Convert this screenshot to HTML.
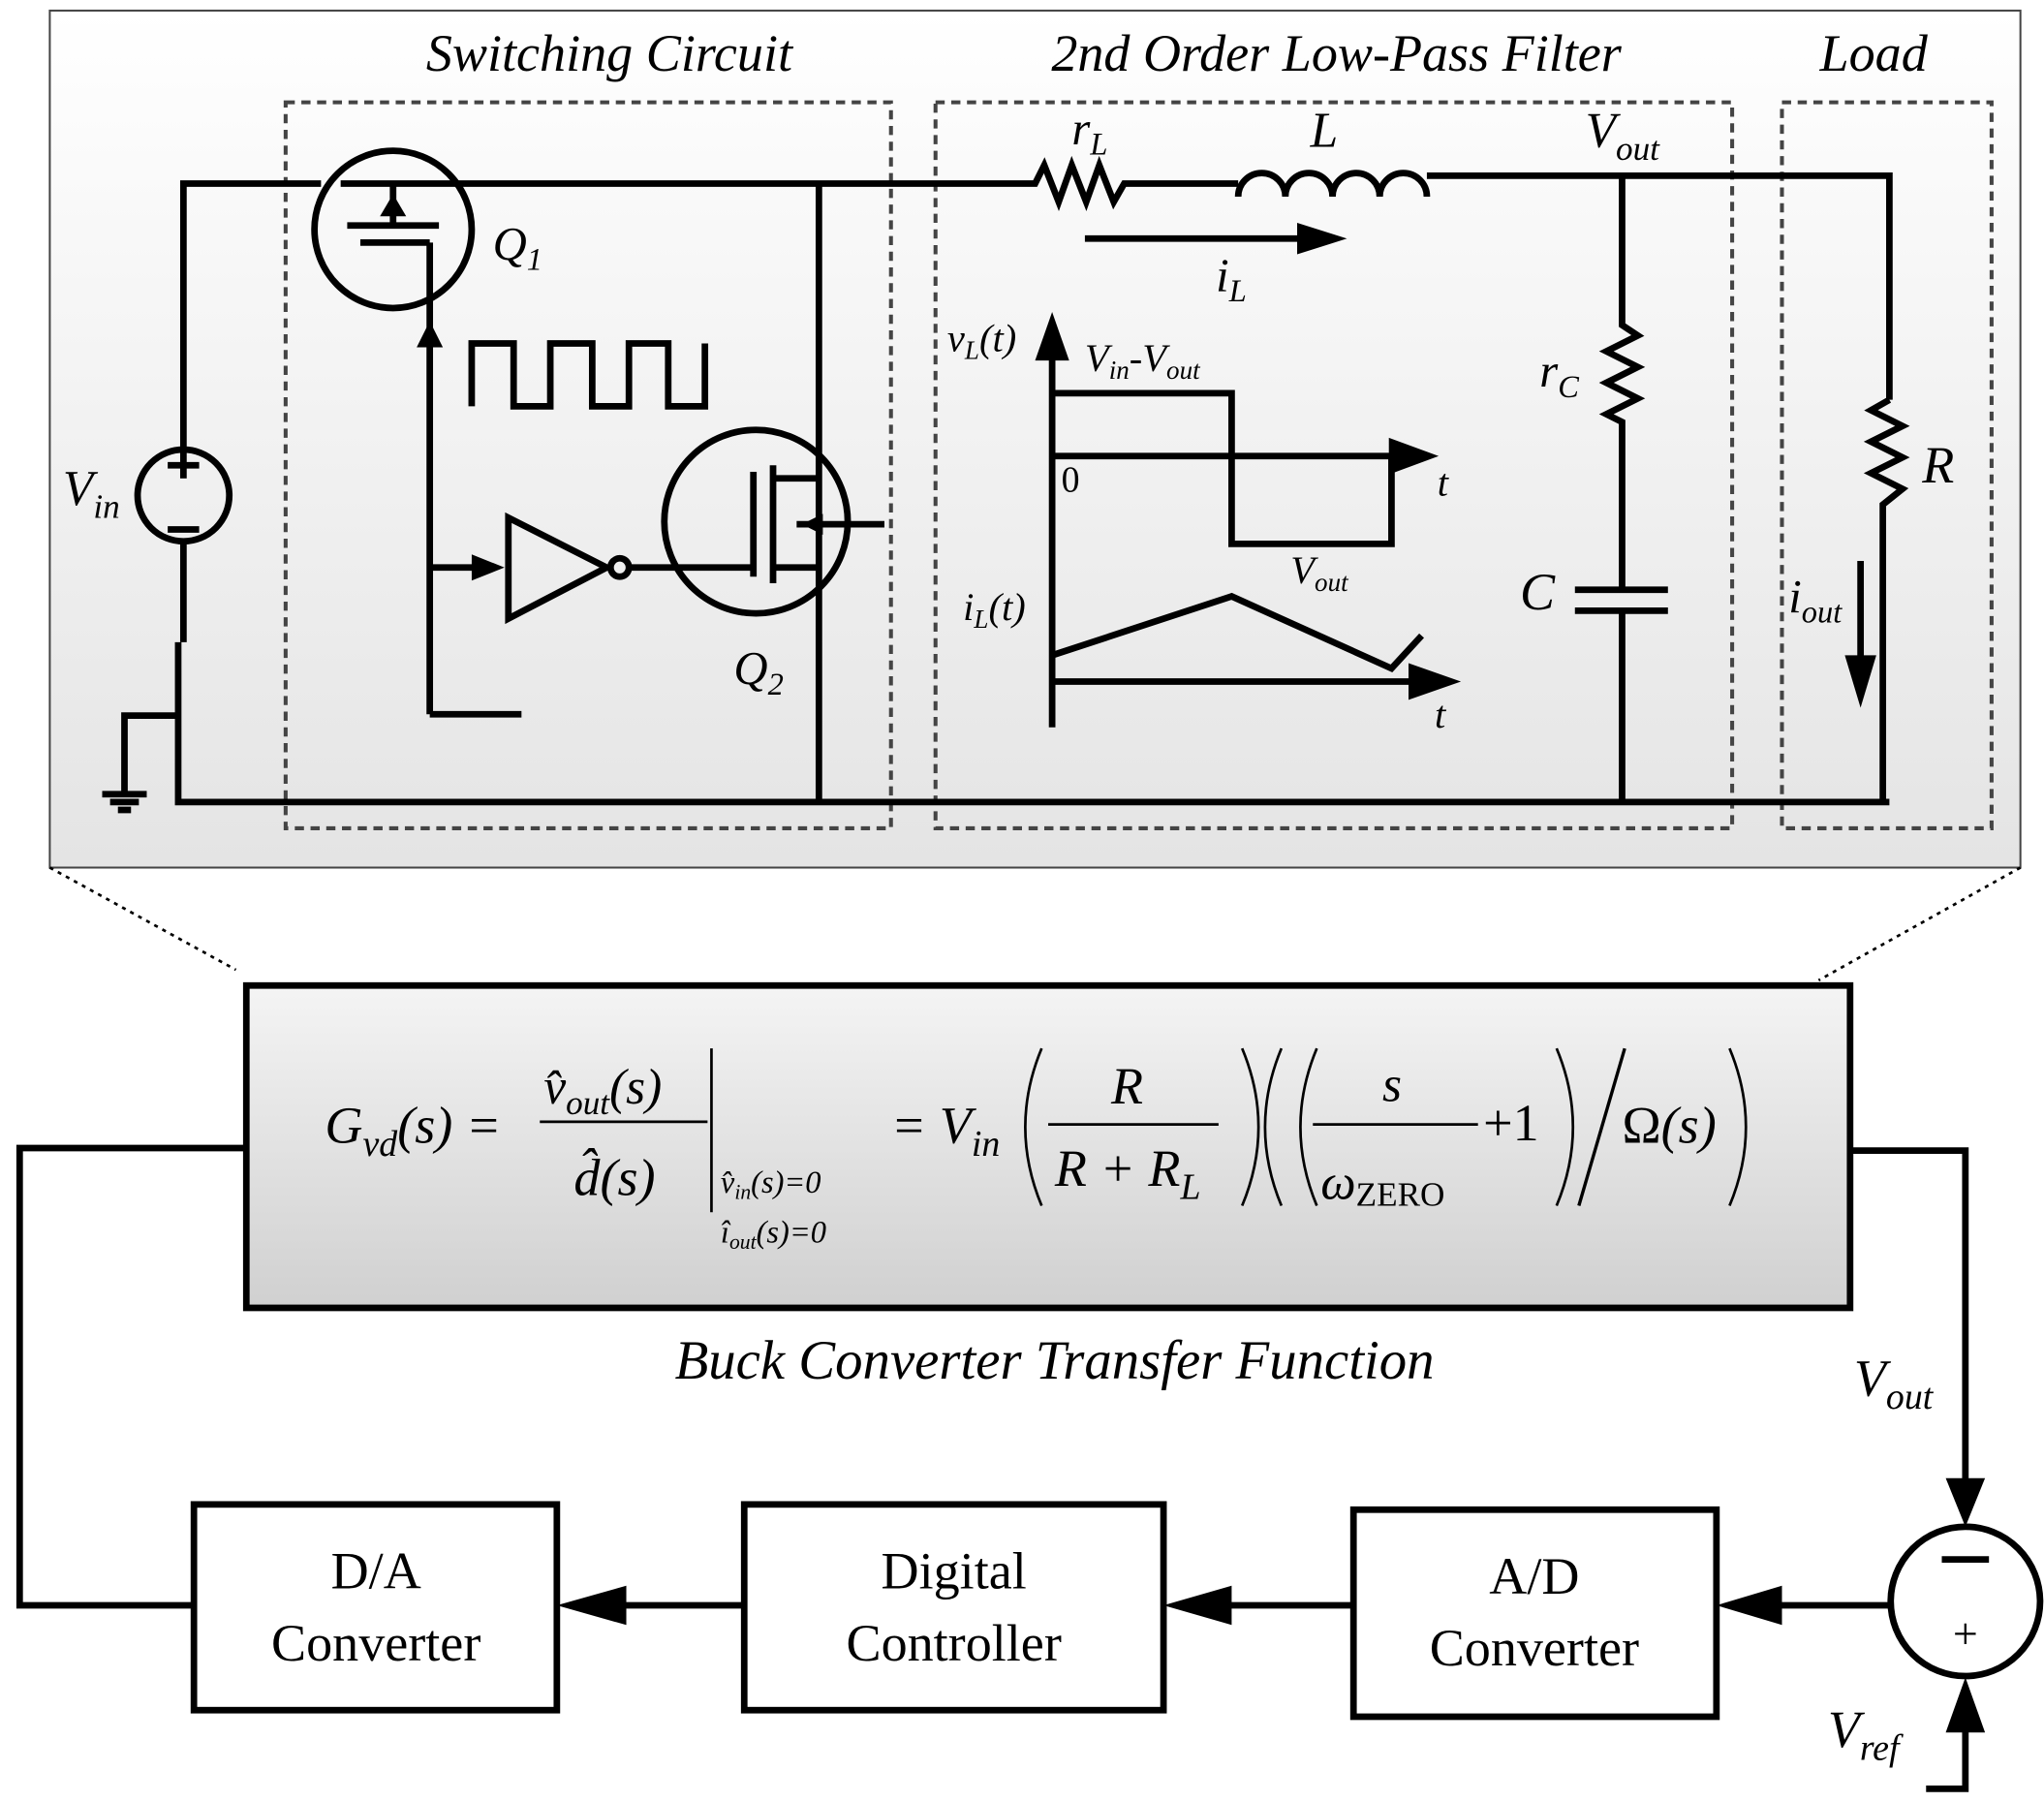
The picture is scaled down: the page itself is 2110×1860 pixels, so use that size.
<!DOCTYPE html>
<html><head><meta charset="utf-8"><style>
html,body{margin:0;padding:0;background:#fff}
svg{display:block}
text{font-family:"Liberation Serif",serif;fill:#000}
.i{font-style:italic}
</style></head><body>
<svg width="2110" height="1860" viewBox="0 0 1560 1375" xmlns="http://www.w3.org/2000/svg">
<defs>
<linearGradient id="g1" x1="0" y1="0" x2="0" y2="1"><stop offset="0" stop-color="#ffffff"/><stop offset="1" stop-color="#e4e4e4"/></linearGradient>
<linearGradient id="g2" x1="0" y1="0" x2="0" y2="1"><stop offset="0" stop-color="#f4f4f4"/><stop offset="1" stop-color="#d0d0d0"/></linearGradient>
</defs>
<rect x="38" y="8" width="1504" height="654" fill="url(#g1)" stroke="#444" stroke-width="1.5"/>
<text x="465" y="54" font-size="40" class="i" text-anchor="middle">Switching Circuit</text>
<text x="1020" y="54" font-size="40" class="i" text-anchor="middle">2nd Order Low-Pass Filter</text>
<text x="1430" y="54" font-size="40" class="i" text-anchor="middle">Load</text>
<g fill="none" stroke="#444" stroke-width="3" stroke-dasharray="7,5">
<rect x="218" y="78" width="462" height="554"/><rect x="714" y="78" width="608" height="554"/><rect x="1360" y="78" width="160" height="554"/>
</g>
<g fill="none" stroke="#000" stroke-width="5">
<polyline points="245,140 140,140 140,343"/>
<circle cx="140" cy="378" r="35"/>
<line x1="140" y1="413" x2="140" y2="490"/>
<polyline points="136,490 136,612 1442,612"/>
<polyline points="136,546 95,546 95,605"/>
<line x1="78" y1="606" x2="112" y2="606"/><line x1="84" y1="612" x2="106" y2="612"/><line x1="90" y1="618" x2="100" y2="618"/>
<line x1="128" y1="355" x2="152" y2="355"/><line x1="140" y1="345" x2="140" y2="365"/>
<line x1="128" y1="404" x2="152" y2="404"/>
<circle cx="300" cy="175" r="60"/>
<line x1="260" y1="140" x2="780" y2="140"/>
<line x1="265" y1="172" x2="335" y2="172"/>
<line x1="275" y1="185" x2="328" y2="185"/>
<polyline points="300,140 300,172"/>
<line x1="328" y1="185" x2="328" y2="545"/>
<line x1="328" y1="545" x2="398" y2="545"/>
<polyline points="360,310 360,262 392,262 392,310 420,310 420,262 452,262 452,310 480,310 480,262 510,262 510,310 538,310 538,262"/>
<line x1="328" y1="433" x2="372" y2="433"/>
<polygon points="388,395 388,472 463,433"/>
<circle cx="473" cy="433" r="7"/>
<line x1="480" y1="433" x2="575" y2="433"/>
<circle cx="577" cy="398" r="70"/>
<line x1="575" y1="360" x2="575" y2="440"/>
<line x1="590" y1="355" x2="590" y2="445"/>
<polyline points="590,365 625,365"/><polyline points="590,433 625,433"/><line x1="608" y1="400" x2="675" y2="400"/>
<line x1="625" y1="140" x2="625" y2="612"/>
<polyline points="780,140 790,140 797,126 808,154 818,126 829,154 839,126 850,154 858,140 945,140"/>
<path d="M945,150 a18,18 0 0 1 36,0 a18,18 0 0 1 36,0 a18,18 0 0 1 36,0 a18,18 0 0 1 36,0"/>
<polyline points="1089,134 1442,134 1442,305"/>
<polyline points="1442,305 1428,313 1452,325 1428,337 1452,349 1428,361 1452,373 1437,385 1437,612"/>
<polyline points="1238,134 1238,248 1250,256 1226,268 1250,280 1226,292 1250,304 1226,316 1238,322 1238,448"/>
<line x1="1202" y1="450" x2="1273" y2="450"/><line x1="1202" y1="466" x2="1273" y2="466"/>
<line x1="1238" y1="466" x2="1238" y2="612"/>
<line x1="828" y1="182" x2="995" y2="182"/>
<line x1="1420" y1="428" x2="1420" y2="505"/>
<line x1="803" y1="270" x2="803" y2="555"/>
<line x1="803" y1="348" x2="1065" y2="348"/>
<polyline points="803,300 940,300 940,415 1062,415 1062,348"/>
<line x1="803" y1="520" x2="1080" y2="520"/>
<polyline points="803,500 940,455 1062,510 1085,485"/>
</g>
<g fill="#000">
<polygon points="318,265 338,265 328,245"/>
<polygon points="360,423 360,443 385,433"/>
<polygon points="290,165 310,165 300,148"/>
<polygon points="612,400 628,392 628,408"/>
<polygon points="990,170 990,194 1028,182"/>
<polygon points="1408,500 1432,500 1420,540"/>
<polygon points="790,275 816,275 803,238"/>
<polygon points="1060,334 1060,362 1098,348"/>
<polygon points="1075,506 1075,534 1115,520"/>
</g>
<text x="48" y="385" font-size="38" class="i">V<tspan font-size="26" dy="10">in</tspan></text>
<text x="376" y="198" font-size="36" class="i">Q<tspan font-size="24" dy="8">1</tspan></text>
<text x="560" y="522" font-size="36" class="i">Q<tspan font-size="24" dy="8">2</tspan></text>
<text x="818" y="110" font-size="36" class="i">r<tspan font-size="24" dy="8">L</tspan></text>
<text x="1000" y="112" font-size="38" class="i">L</text>
<text x="1210" y="112" font-size="38" class="i">V<tspan font-size="26" dy="10">out</tspan></text>
<text x="928" y="222" font-size="36" class="i">i<tspan font-size="24" dy="8">L</tspan></text>
<text x="1175" y="295" font-size="36" class="i">r<tspan font-size="24" dy="8">C</tspan></text>
<text x="1160" y="465" font-size="40" class="i">C</text>
<text x="1467" y="368" font-size="40" class="i">R</text>
<text x="1365" y="467" font-size="36" class="i">i<tspan font-size="24" dy="8">out</tspan></text>
<text x="723" y="268" font-size="30" class="i">v<tspan font-size="20" dy="6">L</tspan><tspan dy="-6">(t)</tspan></text>
<text x="828" y="283" font-size="30" class="i">V<tspan font-size="20" dy="6">in</tspan><tspan dy="-6">-V</tspan><tspan font-size="20" dy="6">out</tspan></text>
<text x="810" y="375" font-size="28">0</text>
<text x="1097" y="378" font-size="30" class="i">t</text>
<text x="985" y="445" font-size="30" class="i">V<tspan font-size="20" dy="6">out</tspan></text>
<text x="735" y="473" font-size="30" class="i">i<tspan font-size="20" dy="6">L</tspan><tspan dy="-6">(t)</tspan></text>
<text x="1095" y="555" font-size="30" class="i">t</text>
<g stroke="#000" stroke-width="2" stroke-dasharray="3,4" fill="none">
<line x1="38" y1="662" x2="180" y2="740"/><line x1="1542" y1="662" x2="1388" y2="748"/>
</g>
<rect x="188" y="752" width="1224" height="246" fill="url(#g2)" stroke="#000" stroke-width="5"/>
<text x="248" y="872" font-size="40" class="i">G<tspan font-size="28" dy="10">vd</tspan><tspan dy="-10">(s) =</tspan></text>
<text x="415" y="842" font-size="38" class="i">v̂<tspan font-size="26" dy="8">out</tspan><tspan dy="-8">(s)</tspan></text>
<line x1="412" y1="856" x2="540" y2="856" stroke="#000" stroke-width="2"/>
<text x="438" y="912" font-size="40" class="i">d̂(s)</text>
<line x1="543" y1="800" x2="543" y2="925" stroke="#000" stroke-width="2"/>
<text x="550" y="910" font-size="24" class="i">v̂<tspan font-size="16" dy="5">in</tspan><tspan dy="-5">(s)=0</tspan></text>
<text x="550" y="948" font-size="24" class="i">î<tspan font-size="16" dy="5">out</tspan><tspan dy="-5">(s)=0</tspan></text>
<text x="680" y="872" font-size="40" class="i">= V<tspan font-size="28" dy="10">in</tspan></text>
<path d="M795,800 q-25,60 0,120 M948,800 q25,60 0,120 M978,800 q-25,60 0,120 M1005,800 q-25,60 0,120 M1188,800 q25,60 0,120 M1320,800 q25,60 0,120" fill="none" stroke="#000" stroke-width="2"/>
<text x="848" y="842" font-size="40" class="i">R</text>
<line x1="800" y1="858" x2="930" y2="858" stroke="#000" stroke-width="2"/>
<text x="805" y="905" font-size="40" class="i">R + R<tspan font-size="28" dy="10">L</tspan></text>
<text x="1055" y="840" font-size="38" class="i">s</text>
<line x1="1002" y1="858" x2="1128" y2="858" stroke="#000" stroke-width="2"/>
<text x="1008" y="915" font-size="38" class="i">ω<tspan font-size="26" dy="5" font-style="normal">ZERO</tspan></text>
<text x="1132" y="870" font-size="40">+1</text>
<line x1="1205" y1="920" x2="1240" y2="800" stroke="#000" stroke-width="2.5"/>
<text x="1238" y="872" font-size="40">Ω<tspan class="i">(s)</tspan></text>
<text x="515" y="1052" font-size="42" class="i">Buck Converter Transfer Function</text>
<g fill="none" stroke="#000" stroke-width="5">
<polyline points="188,876 15,876 15,1225 148,1225"/>
<rect x="148" y="1148" width="277" height="157"/>
<rect x="568" y="1148" width="320" height="157"/>
<rect x="1033" y="1152" width="277" height="158"/>
<circle cx="1500" cy="1222" r="57"/>
<polyline points="1412,878 1500,878 1500,1130"/>
<line x1="475" y1="1225" x2="568" y2="1225"/>
<line x1="935" y1="1225" x2="1033" y2="1225"/>
<line x1="1355" y1="1225" x2="1443" y2="1225"/>
<polyline points="1470,1365 1500,1365 1500,1320"/>
</g>
<g fill="#000">
<polygon points="1485,1128 1515,1128 1500,1165"/>
<polygon points="425,1225 478,1210 478,1240"/>
<polygon points="888,1225 940,1210 940,1240"/>
<polygon points="1310,1225 1360,1210 1360,1240"/>
<polygon points="1485,1322 1515,1322 1500,1280"/>
</g>
<line x1="1482" y1="1190" x2="1518" y2="1190" stroke="#000" stroke-width="5"/>
<text x="1500" y="1258" font-size="34" text-anchor="middle">+</text>
<text x="287" y="1212" font-size="40" text-anchor="middle">D/A</text>
<text x="287" y="1267" font-size="40" text-anchor="middle">Converter</text>
<text x="728" y="1212" font-size="40" text-anchor="middle">Digital</text>
<text x="728" y="1267" font-size="40" text-anchor="middle">Controller</text>
<text x="1171" y="1216" font-size="40" text-anchor="middle">A/D</text>
<text x="1171" y="1271" font-size="40" text-anchor="middle">Converter</text>
<text x="1415" y="1065" font-size="40" class="i">V<tspan font-size="28" dy="10">out</tspan></text>
<text x="1395" y="1333" font-size="40" class="i">V<tspan font-size="28" dy="10">ref</tspan></text>
</svg>
</body></html>
